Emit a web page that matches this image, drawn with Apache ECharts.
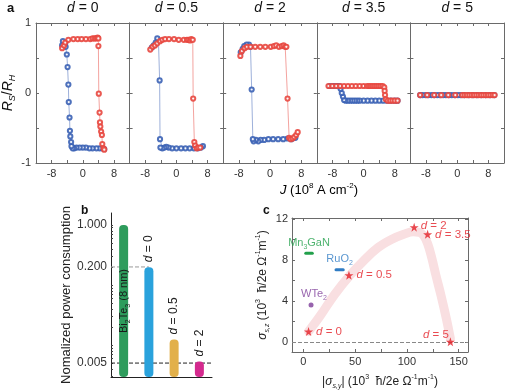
<!DOCTYPE html>
<html><head><meta charset="utf-8">
<script src="https://cdn.jsdelivr.net/npm/echarts@6.0.0/dist/echarts.min.js"></script>
<style>html,body{margin:0;padding:0;background:#fff}#c{width:516px;height:391px}</style>
</head><body><div id="c"></div>
<script>
// ---------- Panel a: hysteresis loops (J in 1e8 A/cm2, Rs/RH) ----------
const panelTitles = ['0', '0.5', '2', '3.5', '5'];
const aXTickLabels = [-8, 0, 8];
const aYTickLabels = [-1, 0, 1];

const red_d0 = [[-5.3,0.64],[-4.8,0.68],[-4.5,0.72],[-3.7,0.76],[-2.4,0.77],[-1.3,0.77],[-0.3,0.77],[0.8,0.77],[1.9,0.77],[2.5,0.78],[3.0,0.78],[3.4,0.78],[3.8,0.79],[4.0,0.78],[4.0,0.67],[4.1,-0.01],[4.3,-0.28],[4.4,-0.42],[4.5,-0.48],[4.7,-0.55],[4.9,-0.6],[5.0,-0.73],[5.3,-0.79],[5.5,-0.81]];
const blue_d0 = [[5.5,-0.8],[5.0,-0.79],[4.3,-0.79],[3.5,-0.79],[2.5,-0.79],[1.7,-0.79],[0.8,-0.78],[0.0,-0.78],[-0.8,-0.78],[-1.6,-0.78],[-2.2,-0.79],[-2.6,-0.79],[-2.9,-0.76],[-3.0,-0.7],[-3.2,-0.62],[-3.3,-0.54],[-3.4,-0.35],[-3.6,-0.13],[-3.7,0.12],[-3.9,0.37],[-4.1,0.55],[-4.4,0.66],[-4.5,0.71],[-5.1,0.74],[-5.3,0.68]];

const red_d05 = [[-6.7,0.62],[-6.1,0.66],[-5.5,0.68],[-4.9,0.71],[-4.2,0.74],[-3.6,0.76],[-2.9,0.77],[-1.9,0.77],[-0.6,0.77],[0.6,0.76],[1.9,0.76],[2.7,0.76],[3.1,0.76],[3.5,0.75],[3.8,0.77],[4.2,0.76],[4.3,-0.08],[4.6,-0.7],[4.8,-0.75],[5.2,-0.79],[5.6,-0.78],[6.1,-0.78]];
const blue_d05 = [[6.8,-0.76],[6.3,-0.78],[5.5,-0.79],[4.5,-0.79],[3.4,-0.79],[2.3,-0.79],[1.2,-0.79],[0.0,-0.79],[-1.1,-0.79],[-2.0,-0.78],[-2.6,-0.77],[-3.1,-0.78],[-3.6,-0.79],[-4.1,-0.78],[-4.2,-0.66],[-4.3,0.18],[-4.6,0.75],[-4.9,0.78],[-5.3,0.72],[-5.8,0.68],[-6.3,0.65]];

const red_d2 = [[-7.6,0.53],[-7.2,0.6],[-6.5,0.64],[-5.9,0.66],[-5.0,0.66],[-3.8,0.66],[-2.5,0.66],[-1.2,0.66],[0.2,0.66],[1.0,0.67],[1.6,0.68],[2.3,0.66],[3.0,0.67],[3.5,0.68],[3.9,0.66],[4.2,0.66],[4.5,-0.08],[4.9,-0.64],[5.3,-0.66],[5.8,-0.65],[6.2,-0.63],[6.7,-0.6],[7.1,-0.56]];
const blue_d2 = [[6.5,-0.64],[5.5,-0.66],[4.5,-0.65],[3.4,-0.66],[2.1,-0.66],[0.8,-0.66],[-0.4,-0.66],[-1.5,-0.67],[-2.4,-0.67],[-3.0,-0.69],[-3.6,-0.67],[-4.2,-0.69],[-4.4,-0.66],[-4.7,0.05],[-5.0,0.66],[-5.4,0.69],[-6.0,0.69],[-6.6,0.67],[-7.0,0.63],[-7.5,0.58]];

const red_d35 = [[-9.0,0.1],[-8.0,0.1],[-7.0,0.1],[-6.0,0.1],[-5.0,0.1],[-4.0,0.1],[-3.0,0.1],[-2.0,0.1],[-1.0,0.1],[0.0,0.1],[0.9,0.1],[1.4,0.1],[1.9,0.1],[2.4,0.1],[2.9,0.1],[3.4,0.1],[3.9,0.1],[4.4,0.1],[4.9,0.1],[5.3,0.08],[5.4,0.03],[5.5,-0.03],[5.7,-0.09],[6.2,-0.11],[6.8,-0.11],[7.4,-0.11],[8.0,-0.11],[8.7,-0.11]];
const blue_d35 = [[8.7,-0.11],[8.0,-0.11],[7.0,-0.11],[6.0,-0.11],[5.0,-0.11],[4.0,-0.11],[3.0,-0.11],[2.0,-0.11],[1.0,-0.11],[0.0,-0.11],[-1.0,-0.11],[-1.6,-0.11],[-2.2,-0.11],[-2.8,-0.11],[-3.4,-0.11],[-4.0,-0.11],[-4.6,-0.11],[-5.0,-0.1],[-5.3,-0.05],[-5.6,0.0],[-5.9,0.06],[-6.2,0.1],[-6.8,0.1],[-7.4,0.1],[-8.0,0.1],[-8.7,0.1]];

const red_d5 = [[-9.5,-0.03],[-7.7,-0.03],[-5.9,-0.03],[-4.1,-0.03],[-2.3,-0.03],[-0.5,-0.03],[1.3,-0.03],[1.9,-0.03],[2.5,-0.03],[3.1,-0.03],[3.7,-0.03],[4.3,-0.03],[4.9,-0.03],[5.5,-0.03],[6.1,-0.03],[6.7,-0.03],[7.3,-0.03],[7.9,-0.03],[8.5,-0.03],[9.1,-0.03],[9.6,-0.03]];
const blue_d5 = [[9.5,-0.03],[8.4,-0.03],[7.3,-0.03],[6.2,-0.03],[5.1,-0.03],[4.0,-0.03],[2.9,-0.03],[1.8,-0.03],[0.9,-0.03],[0.2,-0.03],[-0.6,-0.03],[-1.4,-0.03],[-2.1,-0.03],[-2.9,-0.03],[-3.6,-0.03],[-4.4,-0.03],[-5.1,-0.03],[-5.9,-0.03],[-6.6,-0.03],[-7.4,-0.03],[-8.1,-0.03],[-8.9,-0.03],[-9.5,-0.03]];

const redLoops = [red_d0, red_d05, red_d2, red_d35, red_d5];
const blueLoops = [blue_d0, blue_d05, blue_d2, blue_d35, blue_d5];

// ---------- Panel b: normalized power consumption (log scale) ----------
const barCategories = ['Bi2Te3 (8 nm)', 'd = 0', 'd = 0.5', 'd = 2'];
const barValues = [1.0, 0.197, 0.0124, 0.0053];
const bTickLabels = [0.005, 0.2, 1];
const bAxisRange = [0.00293, 1.585];

// ---------- Panel c: sigma_s,z vs |sigma_s,y| ----------
const starNames = ['0', '0.5', '2', '3.5', '5'];
const starX = [5, 44, 107, 120, 142];
const starY = [1.0, 6.5, 11.2, 10.5, 0.0];
const bandX = [5, 16, 30, 45, 58, 72, 85, 97, 106, 112, 116, 120, 124, 128, 133, 138, 142];
const bandY = [1.0, 2.5, 4.6, 6.5, 7.9, 9.2, 10.0, 10.5, 10.75, 10.7, 10.4, 9.6, 8.2, 6.5, 4.5, 2.3, 0.3];
const mn3ganX = [2.3, 8.6], mn3ganY = 8.65;
const ruo2X = [31.5, 38.5], ruo2Y = 7.05;
const wte2X = 7.4, wte2Y = 3.6;
const cXTickLabels = [0, 50, 100, 150];
const cYTickLabels = [0, 4, 8, 12];

// ---------- build ----------
const FONT = '"Liberation Sans", Arial, Helvetica, sans-serif';
const AX = '#6a6a6a';
const RED = '#e8473f', BLUE = '#3b62b5';
const grids = [], xAxes = [], yAxes = [], series = [];
const richBase = (size, color) => ({
  i: {fontStyle: 'italic', fontSize: size, fontFamily: FONT, color},
  n: {fontSize: size, fontFamily: FONT, color},
  sub: {fontSize: Math.round(size * 0.62), fontFamily: FONT, color, verticalAlign: 'bottom', lineHeight: size + 4},
  isub: {fontSize: Math.round(size * 0.62), fontStyle: 'italic', fontFamily: FONT, color, verticalAlign: 'bottom', lineHeight: size + 4},
  sup: {fontSize: Math.round(size * 0.62), fontFamily: FONT, color, verticalAlign: 'top', lineHeight: size + 4}
});
function addX(o) { xAxes.push(o); return xAxes.length - 1; }
function addY(o) { yAxes.push(o); return yAxes.length - 1; }

const tickStyle = {inside: true, length: 3, lineStyle: {color: AX, width: 1}};
const lineStyleAx = {onZero: false, show: true, lineStyle: {color: AX, width: 1}};

panelTitles.forEach((t, i) => {
  const g = grids.length;
  grids.push({left: 36 + i * 93.6, top: 15, width: 93.6, height: 148});
  const xb = addX({gridIndex: g, type: 'value', min: -12, max: 12, interval: 4, position: 'bottom',
    axisLine: lineStyleAx, axisTick: tickStyle, splitLine: {show: false},
    axisLabel: {color: '#333', fontSize: 11, fontFamily: FONT, margin: 5,
      formatter: v => aXTickLabels.includes(v) ? String(v) : ''}});
  addX({gridIndex: g, type: 'value', min: -12, max: 12, interval: 4, position: 'top',
    axisLine: lineStyleAx, axisTick: tickStyle, splitLine: {show: false}, axisLabel: {show: false},
    name: '{i|d}{n| = ' + t + '}', nameLocation: 'middle', nameGap: 8,
    nameTextStyle: {rich: richBase(14, '#111')}});
  const yl = addY({gridIndex: g, type: 'value', min: -1, max: 1, interval: 0.5, position: 'left',
    axisLine: lineStyleAx, axisTick: tickStyle, splitLine: {show: false},
    axisLabel: {show: i === 0, color: '#333', fontSize: 11, fontFamily: FONT, margin: 5, showMinLabel: true, showMaxLabel: true,
      formatter: v => aYTickLabels.includes(v) ? String(v) : ''},
    name: i === 0 ? '{i|R}{isub|S}{n|/}{i|R}{isub|H}' : '', nameLocation: 'middle', nameGap: 12, nameRotate: 90,
    nameTextStyle: {rich: richBase(14, '#111')}});
  addY({gridIndex: g, type: 'value', min: -1, max: 1, interval: 0.5, position: 'right',
    axisLine: lineStyleAx, axisTick: tickStyle, splitLine: {show: false}, axisLabel: {show: false}});
  [[blueLoops[i], BLUE], [redLoops[i], RED]].forEach(([data, color]) => {
    series.push({type: 'line', xAxisIndex: xb, yAxisIndex: yl, data, symbol: 'emptyCircle', symbolSize: 4.2,
      itemStyle: {color, borderWidth: 0.9, opacity: 0.9}, lineStyle: {color, width: 1, opacity: 0.5}, z: 3});
  });
});

// Panel b
const L0 = Math.log10(bAxisRange[0]), L1 = Math.log10(bAxisRange[1]);
const toB = v => Math.log10(v) - L0;
const minorTicks = [];
for (let d = -3; d <= 0; d++) for (let k = 1; k <= 9; k++) { const v = k * Math.pow(10, d); if (v >= bAxisRange[0] && v <= bAxisRange[1]) minorTicks.push(toB(v)); }
const gb = grids.length;
grids.push({left: 111, top: 213, width: 101, height: 164});
const xbCat = addX({gridIndex: gb, type: 'category', data: barCategories, position: 'bottom',
  axisLine: {onZero: false, lineStyle: {color: '#222'}}, axisTick: {show: false}, axisLabel: {show: false}});
const xbVal = addX({gridIndex: gb, type: 'value', min: -0.5, max: barCategories.length - 0.5, show: false});
const ybAx = addY({gridIndex: gb, type: 'value', min: 0, max: L1 - L0, position: 'left',
  axisLine: {show: true, onZero: false, lineStyle: {color: '#222'}},
  axisTick: {show: true, inside: true, length: 2, customValues: minorTicks, lineStyle: {color: '#444'}},
  splitLine: {show: false},
  axisLabel: {customValues: bTickLabels.map(toB), color: '#333', fontSize: 12, fontFamily: FONT, margin: 4,
    formatter: v => Math.pow(10, v + L0).toFixed(3)},
  name: 'Nomalized power consumption', nameLocation: 'middle', nameGap: 33,
  nameTextStyle: {fontSize: 13, fontFamily: FONT, color: '#222'}});
const barColors = ['#2e9c5c', '#2aa2dc', '#e2b04a', '#d42a8e'];
series.push({type: 'bar', xAxisIndex: xbCat, yAxisIndex: ybAx, barWidth: 9, z: 3,
  data: barValues.map((v, i) => ({
    value: toB(v),
    itemStyle: {color: barColors[i], borderRadius: 4},
    label: i === 0 ? {show: true, position: 'inside', rotate: 90, formatter: '{n|Bi}{sub|2}{n|Te}{sub|3}{n| (8 nm)}', rich: richBase(11, '#1a1a1a')}
                   : {show: true, position: 'top', rotate: 90, align: 'left', verticalAlign: 'middle', distance: 5,
                      formatter: '{i|d}{n|' + barCategories[i].slice(1) + '}', rich: richBase(12, '#222')}
  }))});
series.push({type: 'line', xAxisIndex: xbVal, yAxisIndex: ybAx, symbol: 'none', z: 2,
  data: [[-0.5, toB(bTickLabels[1])], [1, toB(bTickLabels[1])]], lineStyle: {type: 'dashed', color: '#999', width: 1}});
series.push({type: 'line', xAxisIndex: xbVal, yAxisIndex: ybAx, symbol: 'none', z: 2,
  data: [[-0.5, toB(bTickLabels[0])], [barCategories.length - 0.5, toB(bTickLabels[0])]], lineStyle: {type: 'dashed', color: '#222', width: 1}});

// Panel c
const gc = grids.length;
grids.push({left: 292, top: 218, width: 176, height: 137.5});
const cxTicks = [0, 25, 50, 75, 100, 125, 150], cyTicks = [0, 2, 4, 6, 8, 10, 12];
const xc = addX({gridIndex: gc, type: 'value', min: -11, max: 159, position: 'bottom',
  axisLine: lineStyleAx, axisTick: Object.assign({customValues: cxTicks}, tickStyle), splitLine: {show: false},
  axisLabel: {customValues: cXTickLabels, color: '#333', fontSize: 11, fontFamily: FONT, margin: 4},
  name: '{n||}{i|σ}{isub|s,y}{n|| (10}{sup|3}{n|  ħ/2e Ω}{sup|-1}{n|m}{sup|-1}{n|)}', nameLocation: 'middle', nameGap: 22,
  nameTextStyle: {rich: richBase(12, '#222')}});
addX({gridIndex: gc, type: 'value', min: -11, max: 159, position: 'top',
  axisLine: lineStyleAx, axisTick: Object.assign({customValues: cxTicks}, tickStyle), splitLine: {show: false}, axisLabel: {show: false}});
const yc = addY({gridIndex: gc, type: 'value', min: -1, max: 12.1, position: 'left',
  axisLine: lineStyleAx, axisTick: Object.assign({customValues: cyTicks}, tickStyle), splitLine: {show: false},
  axisLabel: {customValues: cYTickLabels, color: '#333', fontSize: 11, fontFamily: FONT, margin: 4},
  name: '{i|σ}{isub|s,z}{n| (10}{sup|3}{n|  ħ/2e Ω}{sup|-1}{n|m}{sup|-1}{n|)}', nameLocation: 'middle', nameGap: 21, nameRotate: 90,
  nameTextStyle: {rich: richBase(12, '#222')}});
addY({gridIndex: gc, type: 'value', min: -1, max: 12.1, position: 'right',
  axisLine: lineStyleAx, axisTick: Object.assign({customValues: cyTicks}, tickStyle), splitLine: {show: false}, axisLabel: {show: false}});

series.push({type: 'line', xAxisIndex: xc, yAxisIndex: yc, smooth: 0.4, symbol: 'none', z: 1,
  data: bandX.map((x, i) => [x, bandY[i]]), lineStyle: {width: 9, color: '#f9dfe1', cap: 'round'},
  markLine: {silent: true, symbol: 'none', label: {show: false}, lineStyle: {type: 'dashed', color: '#888', width: 1}, data: [{yAxis: 0}]}});
const STAR = 'path://M50,0 L61.8,35.1 L98.1,35.1 L68.8,56.7 L79.4,91.3 L50,70 L20.6,91.3 L31.2,56.7 L1.9,35.1 L38.2,35.1 Z';
series.push({type: 'scatter', xAxisIndex: xc, yAxisIndex: yc, symbol: STAR, symbolSize: 9, z: 5,
  itemStyle: {color: '#e41e26'},
  data: starNames.map((n, i) => ({value: [starX[i], starY[i]], name: n,
    label: n === '5' ? {show: true, position: 'left', distance: 0, offset: [3, -7]}
         : n === '2' ? {show: true, position: 'right', distance: 2, offset: [0, -1]}
         : {show: true, position: 'right', distance: 3}})),
  label: {formatter: p => '{i|d}{n| = ' + p.name + '}', rich: richBase(11.5, '#e41e26')}});
function material(xs, y, color, name) {
  series.push({type: 'line', xAxisIndex: xc, yAxisIndex: yc, symbol: 'none', z: 4,
    data: xs.map(x => [x, y]), lineStyle: {width: 3, color, cap: 'round'}});
  series.push({type: 'scatter', xAxisIndex: xc, yAxisIndex: yc, symbolSize: 0, z: 4,
    data: [[(xs[0] + xs[1]) / 2, y]],
    label: {show: true, position: 'top', distance: 3, formatter: name, rich: richBase(11, color)}});
}
material(mn3ganX, mn3ganY, '#22a04b', '{n|Mn}{sub|3}{n|GaN}');
material(ruo2X, ruo2Y, '#2f7cc4', '{n|RuO}{sub|2}');
series.push({type: 'scatter', xAxisIndex: xc, yAxisIndex: yc, symbolSize: 5, z: 4, itemStyle: {color: '#7d3c98'},
  data: [[wte2X, wte2Y]],
  label: {show: true, position: 'top', distance: 1, offset: [3, 0], formatter: '{n|WTe}{sub|2}', rich: richBase(11, '#7d3c98')}});

const option = {
  animation: false,
  backgroundColor: '#fff',
  grid: grids, xAxis: xAxes, yAxis: yAxes, series,
  graphic: [
    {type: 'text', left: 7, top: 2, style: {text: 'a', font: 'bold 13px ' + FONT, fill: '#111'}},
    {type: 'text', left: 81, top: 205, style: {text: 'b', font: 'bold 12px ' + FONT, fill: '#111'}},
    {type: 'text', left: 263, top: 205, style: {text: 'c', font: 'bold 12px ' + FONT, fill: '#111'}},
    {type: 'text', x: 319, y: 190, style: {text: '{i|J}{n| (10}{sup|8}{n| A cm}{sup|-2}{n|)}', align: 'center', verticalAlign: 'middle', rich: richBase(13, '#222')}}
  ]
};
const chart = echarts.init(document.getElementById('c'));
chart.setOption(option);
</script></body></html>
